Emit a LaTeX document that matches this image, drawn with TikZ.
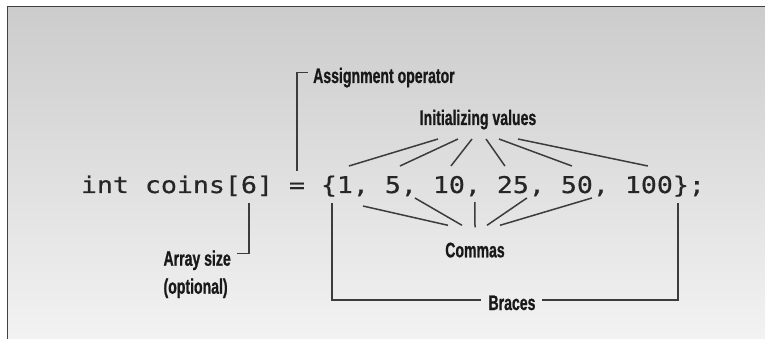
\documentclass[tikz,border=0pt]{standalone}
\usepackage{fontspec}
\newfontfamily\codefont[FakeStretch=1.1552,FakeBold=0.5]{DejaVu Sans Mono}
\newfontfamily\lblfont[FakeStretch=0.67,FakeBold=0.8]{Liberation Sans Bold}
\usetikzlibrary{positioning,calc}
\definecolor{leadgray}{RGB}{60,60,60}
\definecolor{framegray}{RGB}{65,65,65}
\tikzset{
  code/.style={font=\codefont\fontsize{23pt}{32pt}\selectfont,
               inner sep=0pt,outer sep=0pt,text height=22pt,text depth=10pt,
               text=black!85},
  lbl/.style={font=\lblfont\fontsize{21pt}{28pt}\selectfont,
              inner sep=0pt,text=black!90},
  lead/.style={draw=leadgray,line width=1.5pt},
}

\begin{document}
\begin{tikzpicture}[x=1pt,y=-1pt]
  \useasboundingbox (0,0) rectangle (765,339);
  % panel
  \shade[top color=black!20,bottom color=black!5] (7,6.5) rectangle (765,339);
  \draw[framegray,line width=1.6pt] (7.5,339) -- (7.5,6.5) -- (765,6.5);
  % the declaration, one token at a time
  \node[code,anchor=base west] (decl) at (81,193) {int coins[};
  \node[code,base right=0pt of decl] (size) {6};
  \node[code,base right=0pt of size] (rbrk) {]};
  \node[code,base right=16pt of rbrk] (asgn) {=};
  \node[code,base right=16pt of asgn] (lbrace) {\{};
  \node[code,base right=0pt of lbrace] (v1) {1};
  \node[code,base right=0pt of v1] (c1) {,};
  \node[code,base right=16pt of c1] (v2) {5};
  \node[code,base right=0pt of v2] (c2) {,};
  \node[code,base right=16pt of c2] (v3) {10};
  \node[code,base right=0pt of v3] (c3) {,};
  \node[code,base right=16pt of c3] (v4) {25};
  \node[code,base right=0pt of v4] (c4) {,};
  \node[code,base right=16pt of c4] (v5) {50};
  \node[code,base right=0pt of v5] (c5) {,};
  \node[code,base right=16pt of c5] (v6) {100};
  \node[code,base right=0pt of v6] (rbrace) {\}};
  \node[code,base right=0pt of rbrace] (semi) {;};
  % labels
  \node[lbl,anchor=base west] (aslbl) at (313,83) {Assignment operator};
  \node[lbl,anchor=base] (init) at (478,125) {Initializing values};
  \node[lbl,anchor=north east,align=left] (arr) at (231,250.3)
    {Array size\\(optional)};
  \node[lbl,anchor=base] (commas) at (475,257.3) {Commas};
  \node[lbl,anchor=base] (braces) at (512,310) {Braces};
  % assignment and size
  \draw[lead] (asgn.north) |- ([xshift=-5pt,yshift=5pt]aslbl.west);
  \draw[lead] (size.south) |- ([xshift=6pt,yshift=-3pt]arr.north east);
  % initializing values
  \draw[lead] ($(init.base)+(-40,14)$) -- ([xshift=4pt,yshift=5pt]v1.north);
  \draw[lead] ($(init.base)+(-20,14)$) -- ([xshift=7pt,yshift=5pt]v2.north);
  \draw[lead] ($(init.base)+(-6,14)$) -- ([xshift=2pt,yshift=5pt]v3.north);
  \draw[lead] ($(init.base)+(8,14)$) -- ([xshift=-8pt,yshift=5pt]v4.north);
  \draw[lead] ($(init.base)+(21,14)$) -- ([xshift=-5pt,yshift=5pt]v5.north);
  \draw[lead] ($(init.base)+(40,14)$) -- ([xshift=-1pt,yshift=5pt]v6.north);
  % commas
  \draw[lead] ($(c1.base)+(2,13)$) -- ($(commas.base)+(-27,-32)$);
  \draw[lead] ($(c2.base)+(6,5)$) -- ($(commas.base)+(-13,-32)$);
  \draw[lead] ($(c3.base)+(2,9)$) -- ($(commas.base)+(0,-30)$);
  \draw[lead] ($(c4.base)+(-10,5)$) -- ($(commas.base)+(12,-32)$);
  \draw[lead] ($(c5.base)+(-9,5)$) -- ($(commas.base)+(25,-32)$);
  % braces
  \draw[lead] ([xshift=3pt]lbrace.south) |- ([xshift=-7pt,yshift=3pt]braces.west);
  \draw[lead] ([xshift=-3pt]rbrace.south) |- ([xshift=6pt,yshift=3pt]braces.east);
\end{tikzpicture}
\end{document}
